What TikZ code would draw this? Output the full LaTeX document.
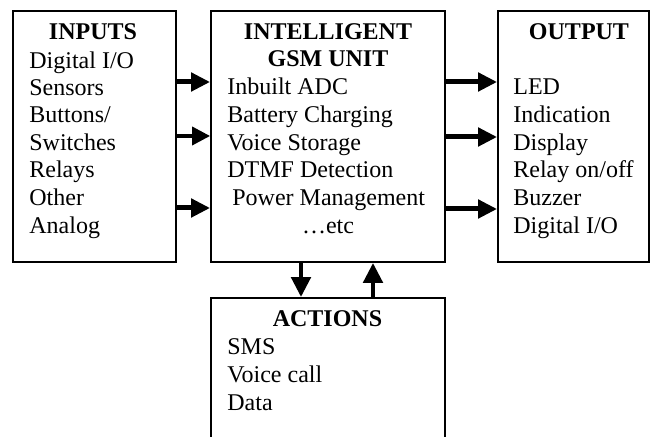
\documentclass[tikz,border=0pt]{standalone}
\usepackage{fontspec}
\setmainfont{Liberation Serif}
\usetikzlibrary{arrows.meta}
\begin{document}
\begin{tikzpicture}[x=0.5pt,y=-0.5pt,
  box/.style={draw, line width=0.9pt, inner sep=0},
  txt/.style={anchor=base west, inner sep=0, font=\fontsize{12}{14}\selectfont},
  ttl/.style={anchor=base, inner sep=0, font=\fontsize{12}{14}\selectfont\bfseries},
  thick arr/.style={line width=2.5pt, -{Triangle[length=9.5pt,width=9pt]}},
  thin arr/.style={line width=1.8pt, -{Triangle[length=9pt,width=9pt]}},
  vert arr/.style={line width=2.4pt, -{Triangle[length=10pt,width=9.5pt]}}]
\useasboundingbox (0,0) rectangle (650,437);
\begin{scope}
\clip (0,0) rectangle (650,437);
% boxes
\node[box, minimum width=81.5pt, minimum height=125.5pt] (inp) at (94.5,136.5) {};
\node[box, minimum width=117pt, minimum height=125.5pt] (gsm) at (328,136.5) {};
\node[box, minimum width=75.5pt, minimum height=125.5pt] (out) at (573.5,136.5) {};
\node[box, minimum width=117pt, minimum height=85pt] (act) at (328,383) {};
\end{scope}
% inputs text
\node[ttl] (t1) at (93,40) {INPUTS};
\node[txt] (i1) at (29,69) {Digital I/O};
\node[txt] (i2) at (29,96) {Sensors};
\node[txt] (i3) at (29,123) {Buttons/};
\node[txt] (i4) at (29,151) {Switches};
\node[txt] (i5) at (29,178) {Relays};
\node[txt] (i6) at (29,206) {Other};
\node[txt] (i7) at (29,234) {Analog};
% gsm text
\node[ttl] (t2a) at (328,40) {INTELLIGENT};
\node[ttl] (t2b) at (328,67) {GSM UNIT};
\node[txt] (g1) at (227,95) {Inbuilt ADC};
\node[txt] (g2) at (227,123) {Battery Charging};
\node[txt] (g3) at (227,151) {Voice Storage};
\node[txt] (g4) at (227,178) {DTMF Detection};
\node[txt] (g5) at (232,206) {Power Management};
\node[anchor=base, inner sep=0, font=\fontsize{12}{14}\selectfont] (g6) at (328,234) {\ldots etc};
% output text
\node[ttl] (t3) at (579,40) {OUTPUT};
\node[txt] (o1) at (513,95) {LED};
\node[txt] (o2) at (513,123) {Indication};
\node[txt] (o3) at (513,151) {Display};
\node[txt] (o4) at (513,178) {Relay on/off};
\node[txt] (o5) at (513,206) {Buzzer};
\node[txt] (o6) at (513,234) {Digital I/O};
% actions text
\node[ttl] (t4) at (327.5,327) {ACTIONS};
\node[txt] (a1) at (227,355) {SMS};
\node[txt] (a2) at (227,383) {Voice call};
\node[txt] (a3) at (227,411) {Data};
% arrows
\draw[thick arr] (inp.east |- 0,82) -- (gsm.west |- 0,82);
\draw[thin arr] (inp.east |- 0,136) -- (gsm.west |- 0,136);
\draw[thick arr] (inp.east |- 0,208) -- (gsm.west |- 0,208);
\draw[thick arr] (gsm.east |- 0,82) -- (out.west |- 0,82);
\draw[thick arr] (gsm.east |- 0,137) -- (out.west |- 0,137);
\draw[thick arr] (gsm.east |- 0,209) -- (out.west |- 0,209);
\draw[vert arr] (gsm.south -| 301,0) -- (act.north -| 301,0);
\draw[vert arr] (act.north -| 373,0) -- (gsm.south -| 373,0);
\end{tikzpicture}
\end{document}
